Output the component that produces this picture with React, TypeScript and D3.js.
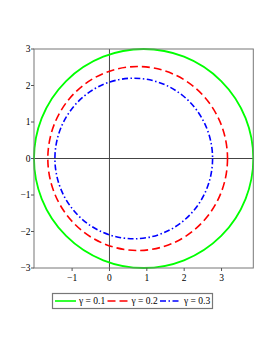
import React from 'react';
import * as d3 from 'd3';

// curve parameters (data units)
const gammas = [0.1, 0.2, 0.3];
const centerX = [0.915, 0.755, 0.65];
const centerY = [0, 0, 0];
const radiusX = [2.935, 2.405, 2.11];
const radiusY = [3.0, 2.52, 2.2];
const colors = ['#00ff00', '#ff0000', '#0000ff'];
const dashes = ['none', '8,4', '6,2.5,1.5,2.5'];

const xTicks = [-1, 0, 1, 2, 3];
const yTicks = [-3, -2, -1, 0, 1, 2, 3];

const App = () => {
  const width = 274;
  const height = 355;
  const left = 34;
  const right = 253.3;
  const top = 49;
  const bottom = 268;

  const x = d3.scaleLinear().domain([-2.02, 3.85]).range([left, right]);
  const y = d3.scaleLinear().domain([-3, 3]).range([bottom, top]);

  const font = '"Liberation Serif", "DejaVu Serif", serif';

  const legendX = 52.5;
  const legendY = 293.5;
  const legendItems = [55, 107.5, 160]; // x start of each legend sample

  return (
    <svg
      width={width}
      height={height}
      style={{ position: 'absolute', left: 0, top: 0, background: '#fff' }}
    >
      <defs>
        <clipPath id="plotClip">
          <rect x={left - 1} y={top - 1} width={right - left + 2} height={bottom - top + 2} />
        </clipPath>
      </defs>

      {/* axes through origin */}
      <line x1={x(0)} x2={x(0)} y1={top} y2={bottom} stroke="#444" strokeWidth={1} />
      <line x1={left} x2={right} y1={y(0)} y2={y(0)} stroke="#444" strokeWidth={1} />

      {/* curves */}
      <g clipPath="url(#plotClip)">
        {gammas.map((g, i) => (
          <ellipse
            key={g}
            cx={x(centerX[i])}
            cy={y(centerY[i])}
            rx={x(centerX[i] + radiusX[i]) - x(centerX[i])}
            ry={y(centerY[i]) - y(centerY[i] + radiusY[i])}
            fill="none"
            stroke={colors[i]}
            strokeWidth={i === 0 ? 1.8 : 1.6}
            strokeDasharray={dashes[i]}
          />
        ))}
      </g>

      {/* box */}
      <rect
        x={left}
        y={top}
        width={right - left}
        height={bottom - top}
        fill="none"
        stroke="#777"
        strokeWidth={1}
      />

      {/* y ticks */}
      {yTicks.map((t) => (
        <g key={'y' + t}>
          <line x1={left - 3} x2={left} y1={y(t)} y2={y(t)} stroke="#555" />
          <text
            x={left - 3.5}
            y={y(t)}
            dy="0.33em"
            textAnchor="end"
            fontFamily={font}
            fontSize={9.5}
            fill="#000"
          >
            {t < 0 ? '\u2212' + Math.abs(t) : t}
          </text>
        </g>
      ))}

      {/* x ticks */}
      {xTicks.map((t) => (
        <g key={'x' + t}>
          <line x1={x(t)} x2={x(t)} y1={bottom} y2={bottom + 3} stroke="#555" />
          <text
            x={x(t)}
            y={bottom + 13}
            textAnchor="middle"
            fontFamily={font}
            fontSize={9.5}
            fill="#000"
          >
            {t < 0 ? '\u2212' + Math.abs(t) : t}
          </text>
        </g>
      ))}

      {/* legend */}
      <rect
        x={legendX}
        y={legendY}
        width={160}
        height={15}
        fill="#fff"
        stroke="#777"
        strokeWidth={1.2}
      />
      {gammas.map((g, i) => (
        <g key={'l' + g}>
          <line
            x1={legendItems[i]}
            x2={legendItems[i] + 21}
            y1={legendY + 7.5}
            y2={legendY + 7.5}
            stroke={colors[i]}
            strokeWidth={1.6}
            strokeDasharray={dashes[i]}
          />
          <text
            x={legendItems[i] + 24}
            y={legendY + 7.5}
            dy="0.35em"
            fontFamily={font}
            fontSize={9.5}
            fill="#000"
          >
            {'\u03b3 = ' + g}
          </text>
        </g>
      ))}
    </svg>
  );
};

export default App;
